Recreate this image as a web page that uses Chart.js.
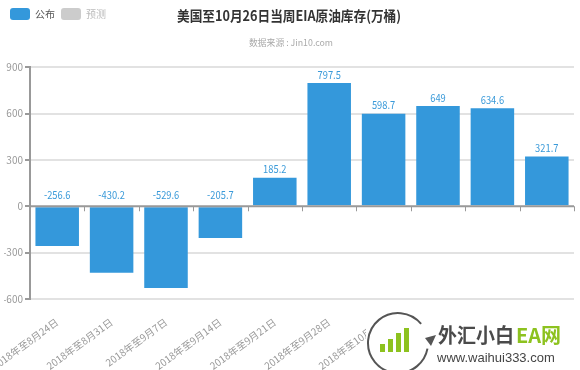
<!DOCTYPE html>
<html>
<head>
<meta charset="utf-8">
<script src="https://cdn.jsdelivr.net/npm/chart.js@4.4.0/dist/chart.umd.min.js"></script>
<style>
  html, body { margin: 0; padding: 0; background: #fff; }
  #wrap { width: 580px; height: 370px; position: relative; }
</style>
</head>
<body>
<div id="wrap"><canvas id="eiaChart"></canvas></div>
<script>
const TITLE = '美国至10月26日当周EIA原油库存(万桶)';
const SUBTITLE = '数据来源 : Jin10.com';
const weeks = ['2018年至8月24日','2018年至8月31日','2018年至9月7日','2018年至9月14日','2018年至9月21日',
               '2018年至9月28日','2018年至10月5日','2018年至10月12日','2018年至10月19日','2018年至10月26日'];
const published = [-256.6, -430.2, -529.6, -205.7, 185.2, 797.5, 598.7, 649, 634.6, 321.7];
const forecast = [null, null, null, null, null, null, null, null, null, null];
const yMin = -600, yMax = 900, yStep = 300;

const CJK = '"Noto Sans CJK SC", "Noto Sans", sans-serif';
Chart.defaults.font.family = CJK;

// value labels above bars (negative ones sit just above the zero line)
const valueLabels = {
    id: 'valueLabels',
    afterDatasetsDraw(chart) {
        const ctx = chart.ctx;
        const zero = chart.scales.y.getPixelForValue(0);
        const meta = chart.getDatasetMeta(0);
        ctx.save();
        ctx.font = '11px ' + CJK;
        ctx.fillStyle = '#3a9ad9';
        ctx.textAlign = 'center';
        ctx.textBaseline = 'bottom';
        meta.data.forEach((bar, i) => {
            const v = String(published[i]);
            const y = published[i] >= 0 ? bar.y - 3 : zero - 6;
            // squeeze a little, the original uses a narrow face
            ctx.fillText(v, bar.x, y, ctx.measureText(v).width * 0.85);
        });
        ctx.restore();
    }
};

// zero line with small ticks between categories
const zeroAxis = {
    id: 'zeroAxis',
    afterDatasetsDraw(chart) {
        const { ctx, scales: { x, y } } = chart;
        const zero = y.getPixelForValue(0);
        const n = weeks.length;
        ctx.save();
        ctx.strokeStyle = '#999';
        ctx.lineWidth = 2;
        ctx.beginPath();
        ctx.moveTo(x.left, zero);
        ctx.lineTo(x.right, zero);
        ctx.stroke();
        ctx.lineWidth = 1;
        for (let i = 0; i <= n; i++) {
            const px = Math.round(x.left + i * x.width / n) + 0.5;
            ctx.beginPath();
            ctx.moveTo(px, zero);
            ctx.lineTo(px, zero + 5);
            ctx.stroke();
        }
        ctx.restore();
    }
};

// title, subtitle and the site watermark in the corner
const headerAndMark = {
    id: 'headerAndMark',
    afterDraw(chart) {
        const ctx = chart.ctx;
        ctx.save();
        ctx.textAlign = 'center';
        ctx.textBaseline = 'middle';
        ctx.fillStyle = '#333';
        ctx.font = 'bold 14px ' + CJK;
        ctx.fillText(TITLE, 289, 16, 224);
        ctx.fillStyle = '#aaa';
        ctx.font = '9px ' + CJK;
        ctx.fillText(SUBTITLE, 291, 43, 84);

        // watermark
        ctx.fillStyle = '#fff';
        ctx.fillRect(366, 301, 214, 69);
        ctx.strokeStyle = '#555';
        ctx.lineWidth = 2;
        ctx.beginPath();
        ctx.arc(398, 343, 30, -0.22 * Math.PI, 0.06 * Math.PI, true);
        ctx.stroke();
        ctx.fillStyle = '#555';
        ctx.beginPath();
        ctx.moveTo(436, 335); ctx.lineTo(425, 338); ctx.lineTo(431, 346); ctx.closePath();
        ctx.fill();
        ctx.fillStyle = '#8dc21f';
        [[380, 8], [388, 13], [396, 19], [404, 24]].forEach(([bx, h]) => ctx.fillRect(bx, 352 - h, 5, h));
        ctx.textAlign = 'left';
        ctx.textBaseline = 'alphabetic';
        ctx.font = 'bold 20px ' + CJK;
        ctx.fillStyle = '#4a4a4a';
        ctx.fillText('外汇小白', 438, 343, 76);
        ctx.fillStyle = '#8dc21f';
        ctx.fillText('EA网', 516, 343, 55);
        ctx.fillStyle = '#444';
        ctx.font = '13px "Liberation Sans", sans-serif';
        ctx.fillText('www.waihui333.com', 437, 362, 136);
        ctx.restore();
    }
};

new Chart(document.getElementById('eiaChart'), {
    type: 'bar',
    data: {
        labels: weeks,
        datasets: [
            { label: '公布', data: published, backgroundColor: '#3498db', stack: 's',
              barPercentage: 0.8, categoryPercentage: 1 },
            { label: '预测', data: forecast, backgroundColor: '#cccccc', stack: 's' }
        ]
    },
    options: {
        responsive: true,
        maintainAspectRatio: false,
        animation: false,
        layout: { padding: { top: 2, right: 6, bottom: 0, left: 4 } },
        plugins: {
            tooltip: { enabled: false },
            legend: {
                position: 'top',
                align: 'start',
                labels: {
                    boxWidth: 20, boxHeight: 12, padding: 6,
                    useBorderRadius: true, borderRadius: 3,
                    font: { size: 10 },
                    generateLabels(chart) {
                        const items = Chart.defaults.plugins.legend.labels.generateLabels(chart);
                        return items.map((it, i) => Object.assign(it, {
                            fontColor: i === 0 ? '#555' : '#bbb',
                            lineWidth: 0, strokeStyle: 'transparent'
                        }));
                    }
                }
            },
            // empty subtitle used only as a spacer under the legend row
            subtitle: { display: true, text: '', weight: 500, font: { size: 1 }, padding: { top: 0, bottom: 36 } }
        },
        scales: {
            x: {
                offset: true,
                grid: { display: false },
                border: { display: false },
                ticks: {
                    color: '#999', font: { size: 10 }, padding: 9,
                    minRotation: 36, maxRotation: 36, autoSkip: false
                },
                afterFit(scale) { scale.paddingLeft = 0; scale.paddingRight = 0; scale.height = 71; }
            },
            y: {
                min: yMin, max: yMax,
                grid: {
                    color: ctx => ctx.tick && ctx.tick.value === 0 ? 'transparent' : '#e2e2e2',
                    lineWidth: 2, tickColor: '#999', tickLength: 5
                },
                border: { display: true, color: '#999', width: 2 },
                ticks: { stepSize: yStep, color: '#999', font: { size: 10 }, padding: 2 },
                afterFit(scale) { scale.width = 26; }
            }
        }
    },
    plugins: [valueLabels, zeroAxis, headerAndMark]
});
</script>
</body>
</html>
